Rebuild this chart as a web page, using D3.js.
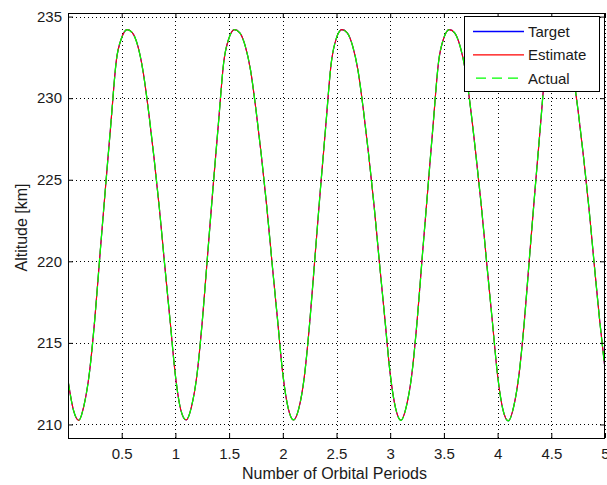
<!DOCTYPE html>
<html>
<head>
<meta charset="utf-8">
<script src="https://cdn.jsdelivr.net/npm/d3@7"></script>
<style>
  body { margin: 0; background: #fff; }
  text { font-family: "Liberation Sans", Arial, sans-serif; fill: #1a1a1a; }
</style>
</head>
<body>
<svg id="chart" width="607" height="485"></svg>
<script>
const sampleStep = 0.05;
const target = [
  212.7, 210.9, 210.26, 211.2, 213.2, 216.5, 220.6, 224.6, 228.5, 232.3, 233.7, 234.2, 234.0, 233.2, 231.6, 229.2, 226.4, 223.3, 219.8, 216.4,
  213.0, 210.9, 210.27, 211.1, 213.0, 216.3, 220.4, 224.5, 228.4, 232.2, 233.7, 234.2, 234.0, 233.2, 231.7, 229.3, 226.5, 223.4, 219.9, 216.5,
  213.1, 211.0, 210.28, 211.0, 212.9, 216.2, 220.3, 224.4, 228.3, 232.1, 233.7, 234.2, 234.0, 233.2, 231.7, 229.3, 226.5, 223.4, 219.9, 216.5,
  213.1, 211.0, 210.25, 211.1, 213.0, 216.3, 220.4, 224.4, 228.4, 232.2, 233.7, 234.2, 234.0, 233.2, 231.7, 229.3, 226.4, 223.3, 219.8, 216.4,
  213.0, 210.9, 210.22, 211.1, 213.1, 216.4, 220.5, 224.5, 228.4, 232.2, 233.7, 234.2, 234.0, 233.2, 231.6, 229.2, 226.4, 223.3, 219.8, 216.4,
  213.4
];
const estimate = [
  212.7, 210.9, 210.25, 211.2, 213.2, 216.5, 220.6, 224.6, 228.5, 232.3, 233.7, 234.2, 234.0, 233.2, 231.6, 229.2, 226.4, 223.3, 219.8, 216.4,
  213.0, 210.9, 210.28, 211.1, 213.0, 216.3, 220.4, 224.5, 228.4, 232.2, 233.7, 234.2, 234.0, 233.2, 231.7, 229.3, 226.5, 223.4, 219.9, 216.5,
  213.1, 211.0, 210.27, 211.0, 212.9, 216.2, 220.3, 224.4, 228.3, 232.1, 233.7, 234.2, 234.0, 233.2, 231.7, 229.3, 226.5, 223.4, 219.9, 216.5,
  213.1, 211.0, 210.26, 211.1, 213.0, 216.3, 220.4, 224.4, 228.4, 232.2, 233.7, 234.2, 234.0, 233.2, 231.7, 229.3, 226.4, 223.3, 219.8, 216.4,
  213.0, 210.9, 210.23, 211.1, 213.1, 216.4, 220.5, 224.5, 228.4, 232.2, 233.7, 234.2, 234.0, 233.2, 231.6, 229.2, 226.4, 223.3, 219.8, 216.4,
  213.4
];
const actual = [
  212.7, 210.9, 210.26, 211.2, 213.2, 216.5, 220.6, 224.6, 228.5, 232.3, 233.7, 234.2, 234.0, 233.2, 231.6, 229.2, 226.4, 223.3, 219.8, 216.4,
  213.0, 210.9, 210.27, 211.1, 213.0, 216.3, 220.4, 224.5, 228.4, 232.2, 233.7, 234.2, 234.0, 233.2, 231.7, 229.3, 226.5, 223.4, 219.9, 216.5,
  213.1, 211.0, 210.28, 211.0, 212.9, 216.2, 220.3, 224.4, 228.3, 232.1, 233.7, 234.2, 234.0, 233.2, 231.7, 229.3, 226.5, 223.4, 219.9, 216.5,
  213.1, 211.0, 210.25, 211.1, 213.0, 216.3, 220.4, 224.4, 228.4, 232.2, 233.7, 234.2, 234.0, 233.2, 231.7, 229.3, 226.4, 223.3, 219.8, 216.4,
  213.0, 210.9, 210.22, 211.1, 213.1, 216.4, 220.5, 224.5, 228.4, 232.2, 233.7, 234.2, 234.0, 233.2, 231.6, 229.2, 226.4, 223.3, 219.8, 216.4,
  213.4
];
const xTicks = [0.5, 1, 1.5, 2, 2.5, 3, 3.5, 4, 4.5, 5];
const yTicks = [210, 215, 220, 225, 230, 235];
const seriesNames = ['Target', 'Estimate', 'Actual'];
const seriesColors = ['#0000ff', '#ff0000', '#00ff00'];

// -- layout -- //
const plotLeft = 68, plotRight = 605, plotTop = 13, plotBottom = 438;
const svg = d3.select('#chart');

const xScale = d3.scaleLinear().domain([0, 5]).range([plotLeft, plotRight]);
const yScale = d3.scaleLinear().domain([209.17, 235.22]).range([plotBottom, plotTop]);

// -- grid -- //
const grid = svg.append('g').attr('class', 'grid')
    .style('stroke', '#000').style('stroke-width', 1).style('stroke-dasharray', '1,3');
grid.selectAll('.gx').data(xTicks).enter().append('line')
    .attr('x1', d => Math.round(xScale(d)) + 0.5).attr('x2', d => Math.round(xScale(d)) + 0.5)
    .attr('y1', plotTop).attr('y2', plotBottom);
grid.selectAll('.gy').data(yTicks).enter().append('line')
    .attr('y1', d => Math.round(yScale(d)) + 0.5).attr('y2', d => Math.round(yScale(d)) + 0.5)
    .attr('x1', plotLeft).attr('x2', plotRight);

// -- lines -- //
svg.append('clipPath').attr('id', 'clip')
    .append('rect').attr('x', plotLeft).attr('y', plotTop)
    .attr('width', plotRight - plotLeft).attr('height', plotBottom - plotTop);

let line = d3.line()
    .x((d, i) => xScale(i * sampleStep))
    .y(d => yScale(d))
    .curve(d3.curveMonotoneX);

const plotLayer = svg.append('g').attr('clip-path', 'url(#clip)');
[target, estimate, actual].forEach((values, k) => {
    plotLayer.append('path')
        .datum(values)
        .attr('d', line)
        .style('fill', 'none')
        .style('stroke', seriesColors[k])
        .style('stroke-width', k === 2 ? 1.3 : 1.1)
        .style('stroke-dasharray', k === 2 ? '10,4' : null);
});

// -- axes, MATLAB style: inward ticks on all four sides -- //
let styleAxis = g => {
    g.select('.domain').remove();
    g.selectAll('.tick line').style('stroke', '#000');
    g.selectAll('.tick text')
        .style('font-family', '"Liberation Sans", Arial, sans-serif')
        .style('font-size', '15px').style('fill', '#1a1a1a');
};
svg.append('g').attr('transform', `translate(0,${plotBottom})`)
    .call(d3.axisBottom(xScale).tickValues(xTicks).tickSize(-5).tickPadding(10).tickFormat(d3.format('')))
    .call(styleAxis);
svg.append('g').attr('transform', `translate(0,${plotTop})`)
    .call(d3.axisTop(xScale).tickValues(xTicks).tickSize(-5).tickFormat(''))
    .call(styleAxis);
svg.append('g').attr('transform', `translate(${plotLeft},0)`)
    .call(d3.axisLeft(yScale).tickValues(yTicks).tickSize(-5).tickPadding(6))
    .call(styleAxis);
svg.append('g').attr('transform', `translate(${plotRight},0)`)
    .call(d3.axisRight(yScale).tickValues(yTicks).tickSize(-5).tickFormat(''))
    .call(styleAxis);

svg.append('rect')
    .attr('x', plotLeft + 0.5).attr('y', plotTop + 0.5)
    .attr('width', plotRight - plotLeft - 1).attr('height', plotBottom - plotTop)
    .style('fill', 'none').style('stroke', '#000').style('stroke-width', 1);

// -- axis titles -- //
svg.append('text')
    .attr('x', (plotLeft + plotRight) / 2 - 2).attr('y', 479)
    .attr('text-anchor', 'middle')
    .style('font-size', '16px')
    .text('Number of Orbital Periods');
svg.append('text')
    .attr('transform', `translate(27,${(plotTop + plotBottom) / 2 + 2}) rotate(-90)`)
    .attr('text-anchor', 'middle')
    .style('font-size', '16px')
    .text('Altitude [km]');

// -- legend -- //
const legend = svg.append('g').attr('class', 'legend');
legend.append('rect')
    .attr('x', 464.5).attr('y', 16.5).attr('width', 135).attr('height', 75)
    .style('fill', '#fff').style('stroke', '#000').style('stroke-width', 1);
seriesNames.forEach((name, k) => {
    const yy = 31.5 + k * 23.3;
    legend.append('line')
        .attr('x1', 473).attr('x2', 524).attr('y1', yy).attr('y2', yy)
        .style('stroke', seriesColors[k])
        .style('stroke-width', 1.3)
        .style('stroke-dasharray', k === 2 ? '10,6' : null)
        .style('stroke-dashoffset', k === 2 ? -3 : null);
    legend.append('text')
        .attr('x', 528).attr('y', yy + 5.5)
        .style('font-size', '15px')
        .text(name);
});
</script>
</body>
</html>
